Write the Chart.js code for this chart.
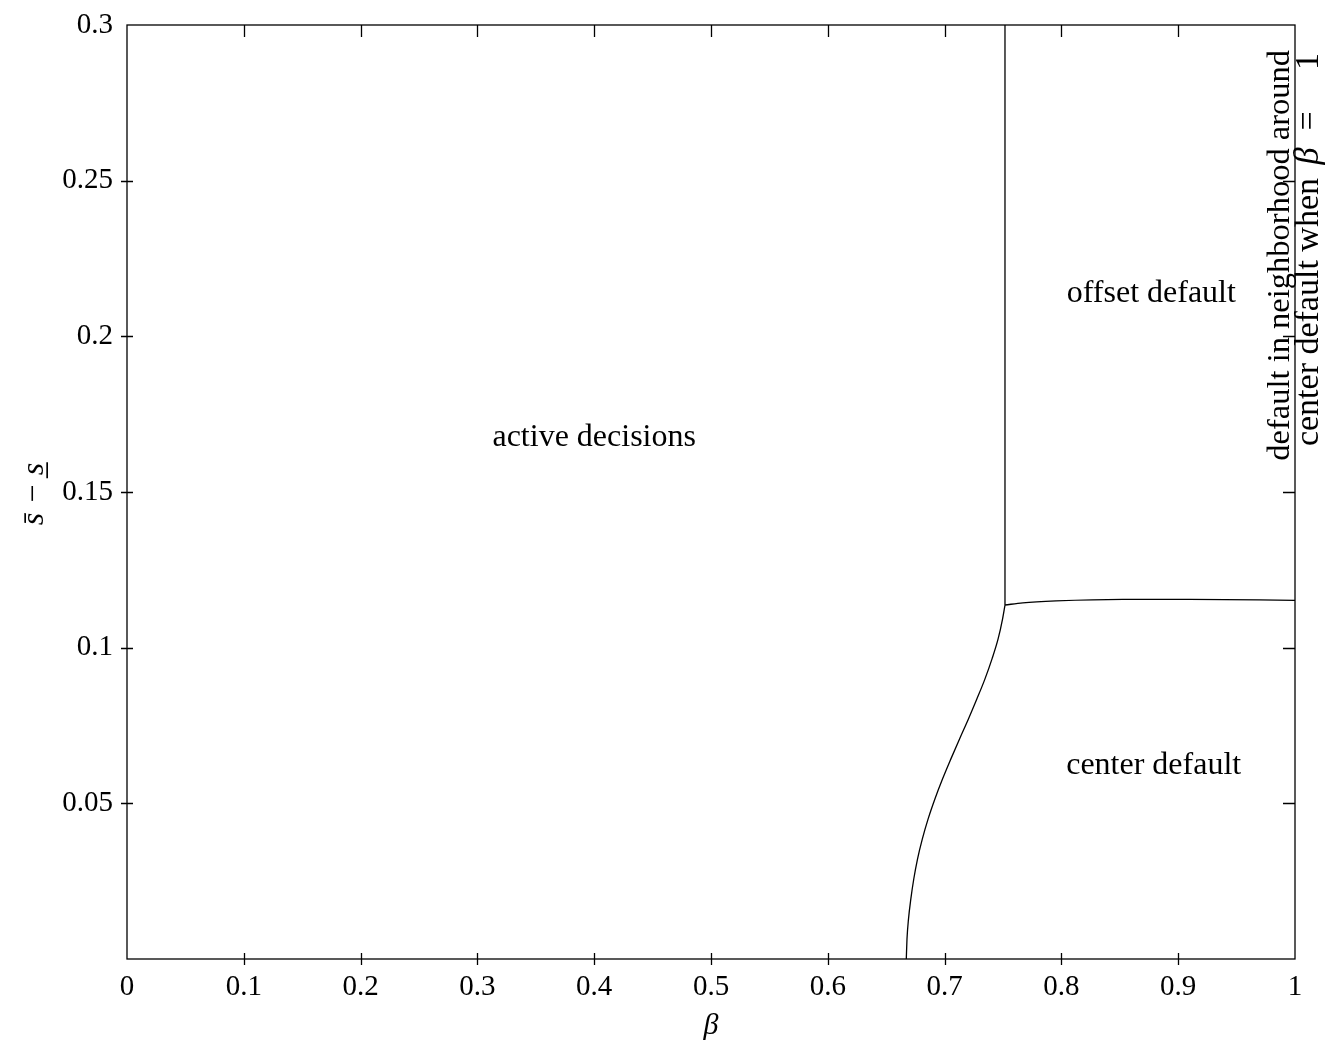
<!DOCTYPE html>
<html lang="en">
<head>
    <meta charset="UTF-8">
    <title>Default regions</title>
    <script src="https://cdn.jsdelivr.net/npm/chart.js"></script>
    <style>
        html, body { margin: 0; padding: 0; background: #fff; }
        #regionChart { display: block; }
    </style>
</head>
<body>
    <canvas id="regionChart" width="1325" height="1041"></canvas>

    <script>
        // tick values and labels
        const xTickValues = [0, 0.1, 0.2, 0.3, 0.4, 0.5, 0.6, 0.7, 0.8, 0.9, 1];
        const xTickLabels = ['0', '0.1', '0.2', '0.3', '0.4', '0.5', '0.6', '0.7', '0.8', '0.9', '1'];
        const yTickValues = [0, 0.05, 0.1, 0.15, 0.2, 0.25, 0.3];
        const yTickLabels = ['', '0.05', '0.1', '0.15', '0.2', '0.25', '0.3'];

        // boundary between active decisions and center default
        const lowerBeta = [0.6672, 0.6678, 0.6691, 0.6711, 0.6736, 0.6768, 0.6809, 0.6859, 0.6917, 0.6982,
                           0.7053, 0.7128, 0.7204, 0.7276, 0.7345, 0.7406, 0.7458, 0.7496, 0.7517];
        const lowerGap = [0, 0.0064, 0.0129, 0.0193, 0.0257, 0.0321, 0.0385, 0.0450, 0.0514, 0.0578,
                          0.0642, 0.0707, 0.0771, 0.0835, 0.0899, 0.0964, 0.1028, 0.1092, 0.1137];
        // boundary between center default and offset default
        const upperBeta = [0.7517, 0.767, 0.7955, 0.8526, 0.9096, 1.0];
        const upperGap = [0.1137, 0.1144, 0.1150, 0.1155, 0.1155, 0.1152];
        // boundary between active decisions and offset default
        const vertBeta = [0.7517, 0.7517];
        const vertGap = [0.1137, 0.3];

        // region labels (data coordinates)
        const regionNames = ['active decisions', 'offset default', 'center default'];
        const regionBeta = [0.4, 0.877, 0.879];
        const regionGap = [0.1674, 0.2136, 0.062];

        const sideNote = ['default in neighborhood around', 'center default when'];

        const serif = '"Liberation Serif", "DejaVu Serif", serif';

        function toPoints(xs, ys) {
            return xs.map((x, i) => ({ x: x, y: ys[i] }));
        }

        function lineSet(xs, ys) {
            return {
                data: toPoints(xs, ys),
                borderColor: '#000',
                borderWidth: 1.3,
                pointRadius: 0,
                cubicInterpolationMode: 'monotone',
                fill: false
            };
        }

        // frame, ticks, titles and labels
        const decorPlugin = {
            id: 'decor',
            afterDraw(chart) {
                const ctx = chart.ctx;
                const a = chart.chartArea;
                const xs = chart.scales.x;
                const ys = chart.scales.y;
                ctx.save();
                ctx.strokeStyle = '#000';
                ctx.lineWidth = 1.3;
                ctx.strokeRect(a.left, a.top, a.right - a.left, a.bottom - a.top);

                ctx.beginPath();
                xTickValues.forEach(v => {
                    const px = Math.round(xs.getPixelForValue(v)) + 0.5;
                    if (v > 0 && v < 1) {
                        ctx.moveTo(px, a.bottom + 6);
                        ctx.lineTo(px, a.bottom - 6);
                        ctx.moveTo(px, a.top);
                        ctx.lineTo(px, a.top + 12);
                    }
                });
                yTickValues.forEach(v => {
                    const py = Math.round(ys.getPixelForValue(v)) + 0.5;
                    if (v > 0 && v < 0.3) {
                        ctx.moveTo(a.left - 6, py);
                        ctx.lineTo(a.left + 6, py);
                        ctx.moveTo(a.right, py);
                        ctx.lineTo(a.right - 12, py);
                    }
                });
                ctx.stroke();

                ctx.fillStyle = '#000';
                ctx.textAlign = 'center';
                ctx.textBaseline = 'middle';
                ctx.font = '32px ' + serif;
                regionNames.forEach((t, i) => {
                    ctx.fillText(t, xs.getPixelForValue(regionBeta[i]), ys.getPixelForValue(regionGap[i]));
                });

                // axis titles
                ctx.font = 'italic 30px ' + serif;
                ctx.fillText('\u03b2', (a.left + a.right) / 2, 1026);
                ctx.save();
                ctx.translate(35, 494);
                ctx.rotate(-Math.PI / 2);
                ctx.font = 'italic 32px ' + serif;
                ctx.fillText('s\u0304 \u2212 s\u0332', 0, 0);
                ctx.restore();

                // rotated side note at the right edge
                ctx.save();
                ctx.translate(a.right - 15, 50);
                ctx.rotate(-Math.PI / 2);
                ctx.font = '32.5px ' + serif;
                ctx.textAlign = 'right';
                ctx.fillText(sideNote[0], 0, 0);
                ctx.font = '34px ' + serif;
                ctx.fillText('1', -3, 29);
                ctx.textAlign = 'center';
                ctx.fillText('=', -71, 29);
                ctx.font = 'italic 35px ' + serif;
                ctx.fillText('\u03b2', -106, 29);
                ctx.font = '34px ' + serif;
                ctx.textAlign = 'right';
                ctx.fillText(sideNote[1], -128, 29);
                ctx.restore();

                ctx.restore();
            }
        };

        const ctx = document.getElementById('regionChart').getContext('2d');
        new Chart(ctx, {
            type: 'line',
            data: {
                datasets: [
                    lineSet(lowerBeta, lowerGap),
                    lineSet(upperBeta, upperGap),
                    lineSet(vertBeta, vertGap)
                ]
            },
            options: {
                responsive: false,
                animation: false,
                layout: { padding: { left: 0, right: 30, top: 25, bottom: 0 } },
                plugins: {
                    legend: { display: false },
                    tooltip: { enabled: false }
                },
                scales: {
                    x: {
                        type: 'linear',
                        min: 0,
                        max: 1,
                        afterBuildTicks: s => { s.ticks = xTickValues.map(v => ({ value: v })); },
                        afterFit: s => { s.height = 82; s.paddingLeft = 0; s.paddingRight = 0; },
                        grid: { display: false, drawTicks: false },
                        border: { display: false },
                        ticks: {
                            padding: 11,
                            color: '#000',
                            maxRotation: 0,
                            autoSkip: false,
                            font: { family: serif, size: 29 },
                            callback: (v, i) => xTickLabels[i]
                        }
                    },
                    y: {
                        type: 'linear',
                        min: 0,
                        max: 0.3,
                        afterBuildTicks: s => { s.ticks = yTickValues.map(v => ({ value: v })); },
                        afterFit: s => { s.width = 127; s.paddingTop = 0; s.paddingBottom = 0; },
                        grid: { display: false, drawTicks: false },
                        border: { display: false },
                        ticks: {
                            padding: 14,
                            color: '#000',
                            autoSkip: false,
                            font: { family: serif, size: 29 },
                            callback: (v, i) => yTickLabels[i]
                        }
                    }
                }
            },
            plugins: [decorPlugin]
        });
    </script>
</body>
</html>
